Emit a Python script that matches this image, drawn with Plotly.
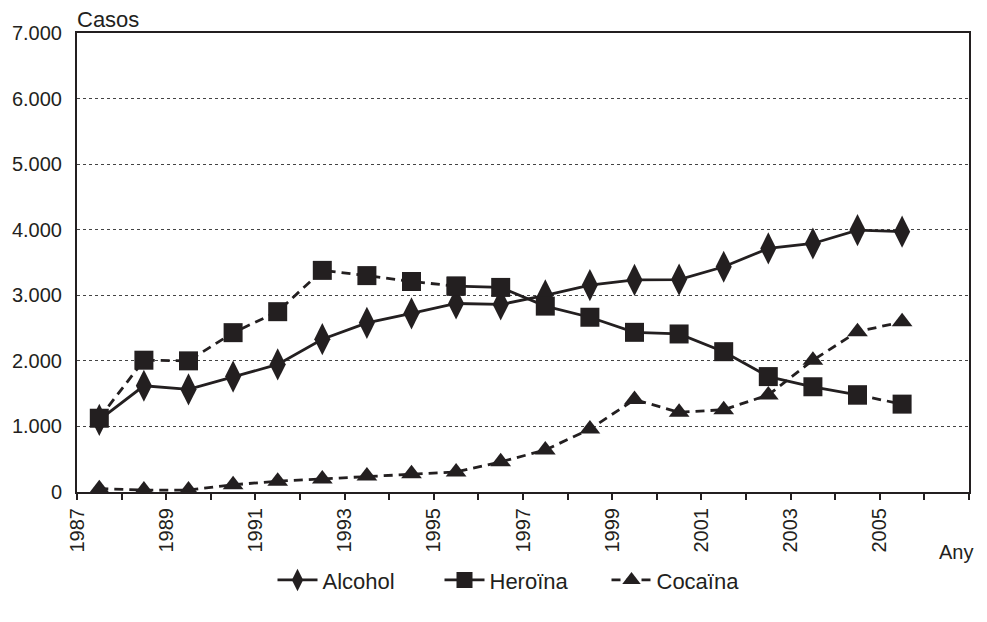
import plotly.graph_objects as go

# ---- data ----
years = list(range(1987, 2006))
alcohol = [1100, 1620, 1565, 1760, 1945, 2330, 2580, 2725, 2875, 2860,
           3000, 3155, 3235, 3240, 3435, 3715, 3790, 3995, 3970]
heroina = [1125, 2010, 2000, 2430, 2750, 3380, 3300, 3210, 3140, 3120,
           2835, 2665, 2435, 2410, 2140, 1760, 1605, 1480, 1340]
cocaina = [50, 30, 30, 110, 165, 200, 245, 280, 305, 460,
           640, 960, 1410, 1215, 1255, 1480, 2010, 2445, 2595]
tick_years = list(range(1987, 2008))
label_years = list(range(1987, 2006, 2))
y_ticks = list(range(0, 7001, 1000))

# ---- style ----
INK = "#231f20"
FONT = "Liberation Sans, Arial, sans-serif"
FS = 20
FS_BIG = 22
LW = 2.8
DASH = "9px,6px"
HEROIN_SOLID_FROM, HEROIN_SOLID_TO = 1995, 2004

fig = go.Figure()

fig.add_trace(go.Scatter(
    x=years, y=alcohol, name="Alcohol", mode="lines+markers",
    line=dict(color=INK, width=LW),
    marker=dict(symbol="diamond-tall", size=23, color=INK),
    legendrank=1,
))

i0 = years.index(HEROIN_SOLID_FROM)
i1 = years.index(HEROIN_SOLID_TO)
hmarker = dict(symbol="square", size=19, color=INK)
fig.add_trace(go.Scatter(
    x=years[:i0 + 1], y=heroina[:i0 + 1], mode="lines+markers",
    line=dict(color=INK, width=LW, dash=DASH), marker=hmarker,
    showlegend=False,
))
fig.add_trace(go.Scatter(
    x=years[i1:], y=heroina[i1:], mode="lines+markers",
    line=dict(color=INK, width=LW, dash=DASH), marker=hmarker,
    showlegend=False,
))
fig.add_trace(go.Scatter(
    x=years[i0:i1 + 1], y=heroina[i0:i1 + 1], name="Heroïna", mode="lines+markers",
    line=dict(color=INK, width=LW), marker=hmarker,
    legendrank=2,
))

fig.add_trace(go.Scatter(
    x=years, y=cocaina, name="Cocaïna", mode="lines+markers",
    line=dict(color=INK, width=LW, dash=DASH),
    marker=dict(symbol="triangle-up", size=18, color=INK),
    legendrank=3,
))

tickvals = [y - 0.5 for y in tick_years]
ticktext = [str(y) if y in label_years else "" for y in tick_years]

fig.update_layout(
    width=987, height=622,
    margin=dict(l=73, r=18, t=33, b=130),
    paper_bgcolor="white", plot_bgcolor="white",
    font=dict(family=FONT, size=FS, color=INK),
    separators=",.",
    showlegend=True,
    legend=dict(orientation="h", x=0.5, xanchor="center", y=-0.192, yanchor="middle",
                font=dict(size=FS_BIG), itemwidth=40, entrywidth=112,
                traceorder="normal"),
    xaxis=dict(
        range=[tick_years[0] - 0.5, tick_years[-1] - 0.5],
        tickmode="array", tickvals=tickvals, ticktext=ticktext,
        tickangle=-90, ticks="outside", ticklen=6, tickwidth=1.5, tickcolor=INK,
        showline=True, linecolor=INK, linewidth=2, mirror=True,
        showgrid=False, zeroline=False, ticklabelstandoff=0,
        tickfont=dict(size=FS),
    ),
    yaxis=dict(
        range=[0, 7000], tickmode="array", tickvals=y_ticks,
        tickformat=",d", ticks="", ticklabelstandoff=9,
        showline=True, linecolor=INK, linewidth=2, mirror=True,
        showgrid=True, gridcolor="#444444", gridwidth=1, griddash="dot",
        zeroline=False, tickfont=dict(size=FS),
    ),
    annotations=[
        dict(text="Casos", xref="paper", yref="paper", x=-0.002, y=1.0305,
             xanchor="left", yanchor="middle", showarrow=False, font=dict(size=FS_BIG)),
        dict(text="Any", xref="paper", yref="paper", x=1.007, y=-0.131,
             xanchor="right", yanchor="middle", showarrow=False, font=dict(size=FS)),
    ],
)

fig.write_html("out.html", config={"displayModeBar": False},
               post_script="document.body.style.margin='0';document.body.style.overflow='hidden';")
